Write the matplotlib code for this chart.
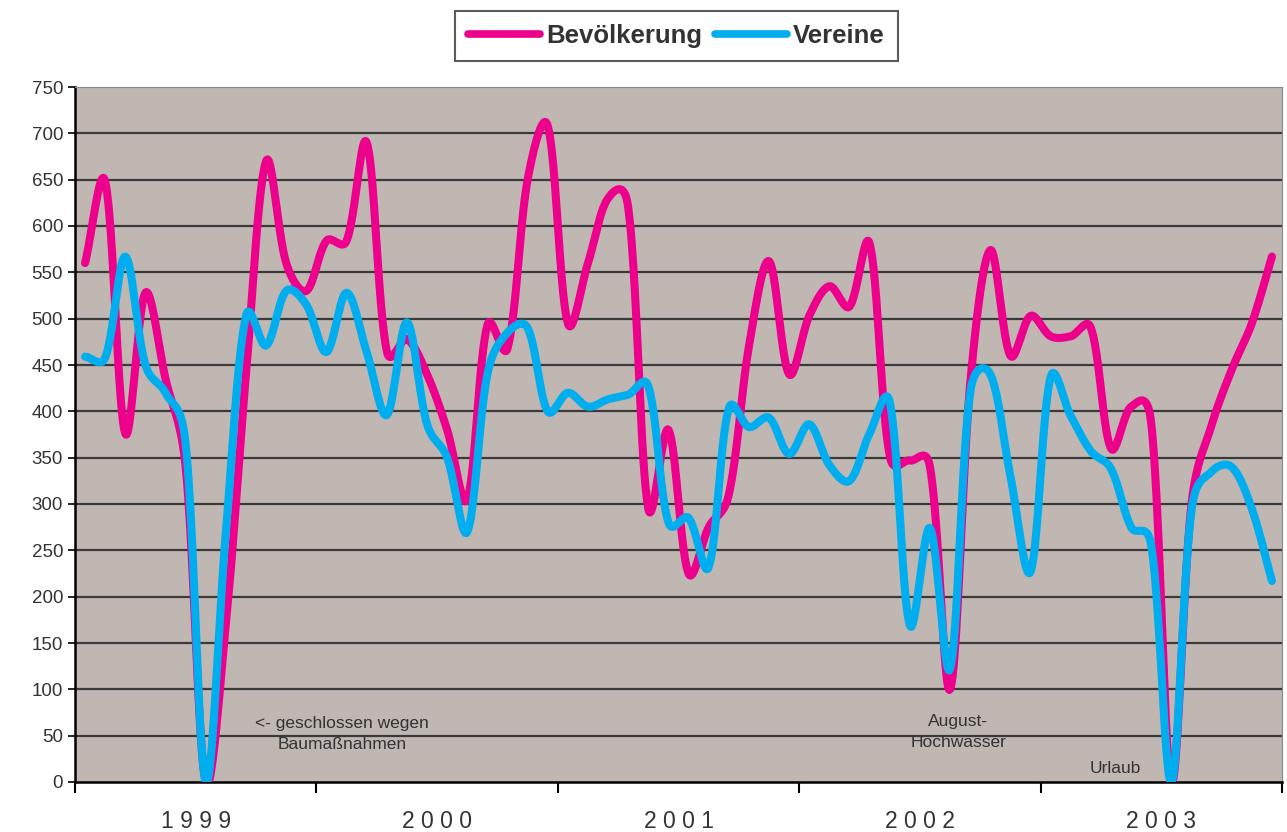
import numpy as np
import matplotlib
matplotlib.use("Agg")
import matplotlib.pyplot as plt
from matplotlib.lines import Line2D

plt.rcParams['font.family'] = ['Liberation Sans', 'DejaVu Sans']

# monthly values 1999-2003
bevoelkerung = [560, 648, 376, 528, 435, 340, 0, 170, 440, 670, 560, 530,
                584, 584, 690, 465, 478, 440, 380, 305, 493, 468, 650, 708,
                495, 560, 630, 620, 295, 380, 225, 275, 310, 470, 562, 440,
                503, 535, 513, 581, 352, 347, 340, 100, 430, 574, 460, 503,
                481, 481, 490, 360, 405, 387, 0, 300, 385, 445, 495, 567]
vereine = [459, 458, 567, 450, 420, 365, 0, 270, 503, 471, 530, 515,
           464, 528, 464, 396, 496, 386, 350, 270, 440, 485, 490, 400,
           420, 405, 413, 418, 427, 280, 285, 232, 403, 383, 393, 354,
           386, 342, 325, 376, 410, 169, 274, 122, 420, 440, 330, 227,
           437, 395, 357, 338, 275, 255, 0, 293, 335, 340, 295, 217]
jahre = ['1 9 9 9', '2 0 0 0', '2 0 0 1', '2 0 0 2', '2 0 0 3']

pink = '#EC008C'
blau = '#00AEEF'
grau = '#333333'

# Pixel pro Monat / pro Einheit, fuer die Glaettung im Bildraum
SX = 1207 / 60
SY = 695 / 750


def glatt(y, n=24):
    # Bezier-Glaettung aehnlich der "geglaetteten Linie" in Excel
    P = np.column_stack([np.arange(len(y)) * SX, np.asarray(y, float) * SY])
    m = len(P)
    d = np.hypot(*np.diff(P, axis=0).T)
    out_c = np.zeros_like(P)
    in_c = np.zeros_like(P)
    for i in range(m):
        if i == 0:
            out_c[i] = P[0] + (P[1] - P[0]) / 3
            continue
        if i == m - 1:
            in_c[i] = P[-1] - (P[-1] - P[-2]) / 3
            continue
        tan = P[i + 1] - P[i - 1]
        s = d[i - 1] + d[i]
        in_c[i] = P[i] - tan * (0.5 * d[i - 1] / s + 0.25) / 3
        out_c[i] = P[i] + tan * (0.5 * d[i] / s + 0.25) / 3
    t = np.linspace(0, 1, n, endpoint=False)[:, None]
    seg = []
    for i in range(m - 1):
        a, b, c, e = P[i], out_c[i], in_c[i + 1], P[i + 1]
        seg.append((1 - t) ** 3 * a + 3 * (1 - t) ** 2 * t * b + 3 * (1 - t) * t ** 2 * c + t ** 3 * e)
    seg.append(P[-1:])
    pts = np.vstack(seg)
    return pts[:, 0] / SX, pts[:, 1] / SY


fig = plt.figure(figsize=(12.87, 8.32), dpi=100)
ax = fig.add_axes([75 / 1287, 1 - 782 / 832, (1282 - 75) / 1287, (782 - 87) / 832])
ax.set_facecolor('#C0B7B3')

for i in range(1, 15):
    ax.axhline(i * 50, color='#3a3a3a', lw=1.6, zorder=1)

xb, yb = glatt(bevoelkerung)
xv, yv = glatt(vereine)
ax.plot(xb, yb, color=pink, lw=5.8, solid_capstyle='round', zorder=3)
ax.plot(xv, yv, color=blau, lw=5.8, solid_capstyle='round', zorder=4)

ax.set_xlim(-0.5, 59.5)
ax.set_ylim(0, 750)
ax.set_yticks(np.arange(0, 751, 50))
ax.tick_params(axis='y', labelsize=13.5, length=5, width=1.2, colors='black', labelcolor=grau)

ax.set_xticks(np.arange(-0.5, 60, 12))
ax.set_xticklabels([])
ax.set_xticks(np.arange(5.5, 60, 12), minor=True)
ax.set_xticklabels(jahre, minor=True)
ax.tick_params(axis='x', which='major', length=8, width=1.5, direction='out')
ax.tick_params(axis='x', which='minor', length=0, labelsize=16.5, pad=20, labelcolor=grau)

ax.spines['left'].set_linewidth(1.8)
ax.spines['bottom'].set_linewidth(1.8)
ax.spines['top'].set_color('#888888')
ax.spines['right'].set_color('#888888')

ax.text(12.77, 52, '<- geschlossen wegen\nBaumaßnahmen', ha='center', va='center',
        fontsize=12.5, color=grau, linespacing=1.55, zorder=5)
ax.text(43.4, 54, 'August-\nHochwasser', ha='center', va='center',
        fontsize=12.5, color=grau, linespacing=1.55, zorder=5)
ax.text(51.2, 15, 'Urlaub', ha='center', va='center', fontsize=12.5, color=grau, zorder=5)

handles = [Line2D([], [], color=pink, lw=5.5, solid_capstyle='round'),
           Line2D([], [], color=blau, lw=5.5, solid_capstyle='round')]
leg = fig.legend(handles, ['Bevölkerung', 'Vereine'], loc='center', ncol=2,
                 bbox_to_anchor=(0.5255, 0.957), handlelength=2.8,
                 handletextpad=0.25, columnspacing=0.5, borderpad=0.5,
                 fancybox=False, prop={'weight': 'bold', 'size': 18.5})
leg.get_frame().set_edgecolor(grau)
leg.get_frame().set_linewidth(1.5)
for t in leg.get_texts():
    t.set_color(grau)

fig.savefig('out.png', dpi=100)
